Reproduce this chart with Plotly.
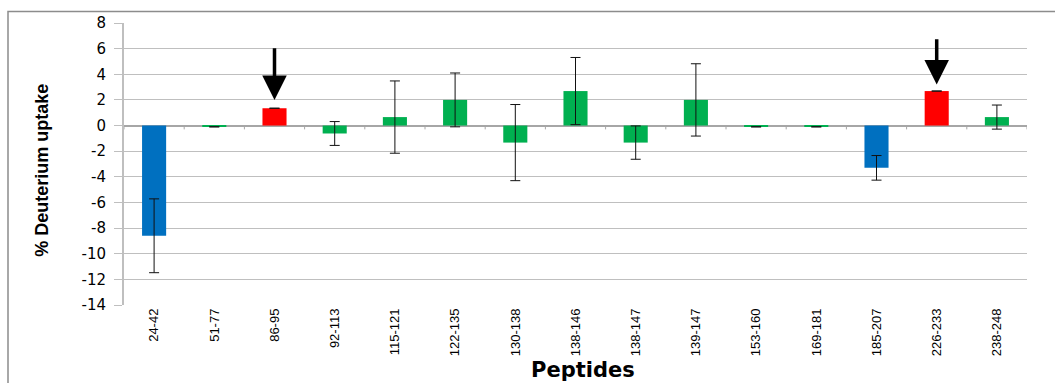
import plotly.graph_objects as go

peptides = ["24-42", "51-77", "86-95", "92-113", "115-121", "122-135", "130-138",
            "138-146", "138-147", "139-147", "153-160", "169-181", "185-207",
            "226-233", "238-248"]
uptake = [-8.6, -0.1, 1.35, -0.62, 0.66, 2.0, -1.33, 2.69, -1.33, 2.0, -0.1, -0.1,
          -3.3, 2.69, 0.66]
errors = [2.88, 0.0, 0.0, 0.93, 2.82, 2.1, 2.97, 2.62, 1.3, 2.82, 0.0, 0.0, 0.96,
          0.0, 0.94]
groups = ["blue", "green", "red", "green", "green", "green", "green", "green",
          "green", "green", "green", "green", "blue", "red", "green"]
arrow_peptides = ["86-95", "226-233"]
arrow_tops = [6.15, 6.85]
arrow_tips = [2.0, 3.2]
y_ticks = list(range(-14, 9, 2))
y_ticktext = [str(v) for v in y_ticks]

palette = {"blue": "#0070C0", "green": "#00B050", "red": "#FF0000"}

W, H = 1055, 383
L, R, T, B = 124, 28, 22.5, 78
pw, ph = W - L - R, H - T - B

fig = go.Figure()
fig.add_trace(go.Bar(
    x=list(range(len(peptides))), y=uptake,
    marker=dict(color=[palette[g] for g in groups], line=dict(width=0)),
    width=0.4,
    error_y=dict(type="data", array=errors, visible=True, color="#111111",
                 thickness=1, width=5),
))

shapes = []
for i in range(len(peptides) + 1):
    shapes.append(dict(type="line", xref="x", yref="y", x0=i - 0.5, x1=i - 0.5,
                       y0=0, y1=-0.3, line=dict(color="#A6A6A6", width=1)))


def px(xp):
    return (xp - L) / pw


def py(yp):
    return (H - B - yp) / ph


shapes.append(dict(type="rect", xref="paper", yref="paper",
                   x0=px(8), x1=px(1070), y0=py(11), y1=py(400),
                   line=dict(color="#8C8C8C", width=1.5), fillcolor="rgba(0,0,0,0)",
                   layer="below"))

annotations = []
for p, top, tip in zip(arrow_peptides, arrow_tops, arrow_tips):
    idx = peptides.index(p)
    annotations.append(dict(x=idx, y=tip, ax=idx, ay=top, xref="x", yref="y",
                            axref="x", ayref="y", showarrow=True, arrowhead=2,
                            arrowsize=1.4, arrowwidth=3.5, arrowcolor="#000000",
                            text=""))
annotations.append(dict(text="<b>Peptides</b>", xref="paper", yref="paper",
                        x=px(583), y=py(384), xanchor="center", yanchor="bottom",
                        showarrow=False,
                        font=dict(family="DejaVu Sans", size=21, color="#000000")))
annotations.append(dict(text="<b>% Deuterium uptake</b>", xref="paper", yref="paper",
                        x=px(42.5), y=py(170), xanchor="center", yanchor="middle",
                        textangle=-90, showarrow=False,
                        font=dict(family="Liberation Sans", size=18, color="#000000")))

fig.update_layout(
    width=W, height=H,
    margin=dict(l=L, r=R, t=T, b=B, pad=0),
    paper_bgcolor="white", plot_bgcolor="white",
    showlegend=False,
    shapes=shapes, annotations=annotations,
    xaxis=dict(
        tickmode="array", tickvals=list(range(len(peptides))), ticktext=peptides,
        tickangle=-90, range=[-0.5, len(peptides) - 0.5],
        showgrid=False, showline=False, zeroline=False, ticks="",
        tickfont=dict(family="Liberation Sans", size=13, color="#000000"),
    ),
    yaxis=dict(
        range=[-14, 8], tickvals=y_ticks, ticktext=y_ticktext,
        showgrid=True, gridcolor="#BFBFBF",
        gridwidth=1, zeroline=True, zerolinecolor="#A6A6A6", zerolinewidth=1.5,
        showline=True, linecolor="#BFBFBF", linewidth=2,
        ticks="outside", ticklen=8, tickcolor="#BFBFBF",
        ticklabelstandoff=5,
        tickfont=dict(family="DejaVu Sans", size=15, color="#000000"),
    ),
)

fig.write_html("out.html")
